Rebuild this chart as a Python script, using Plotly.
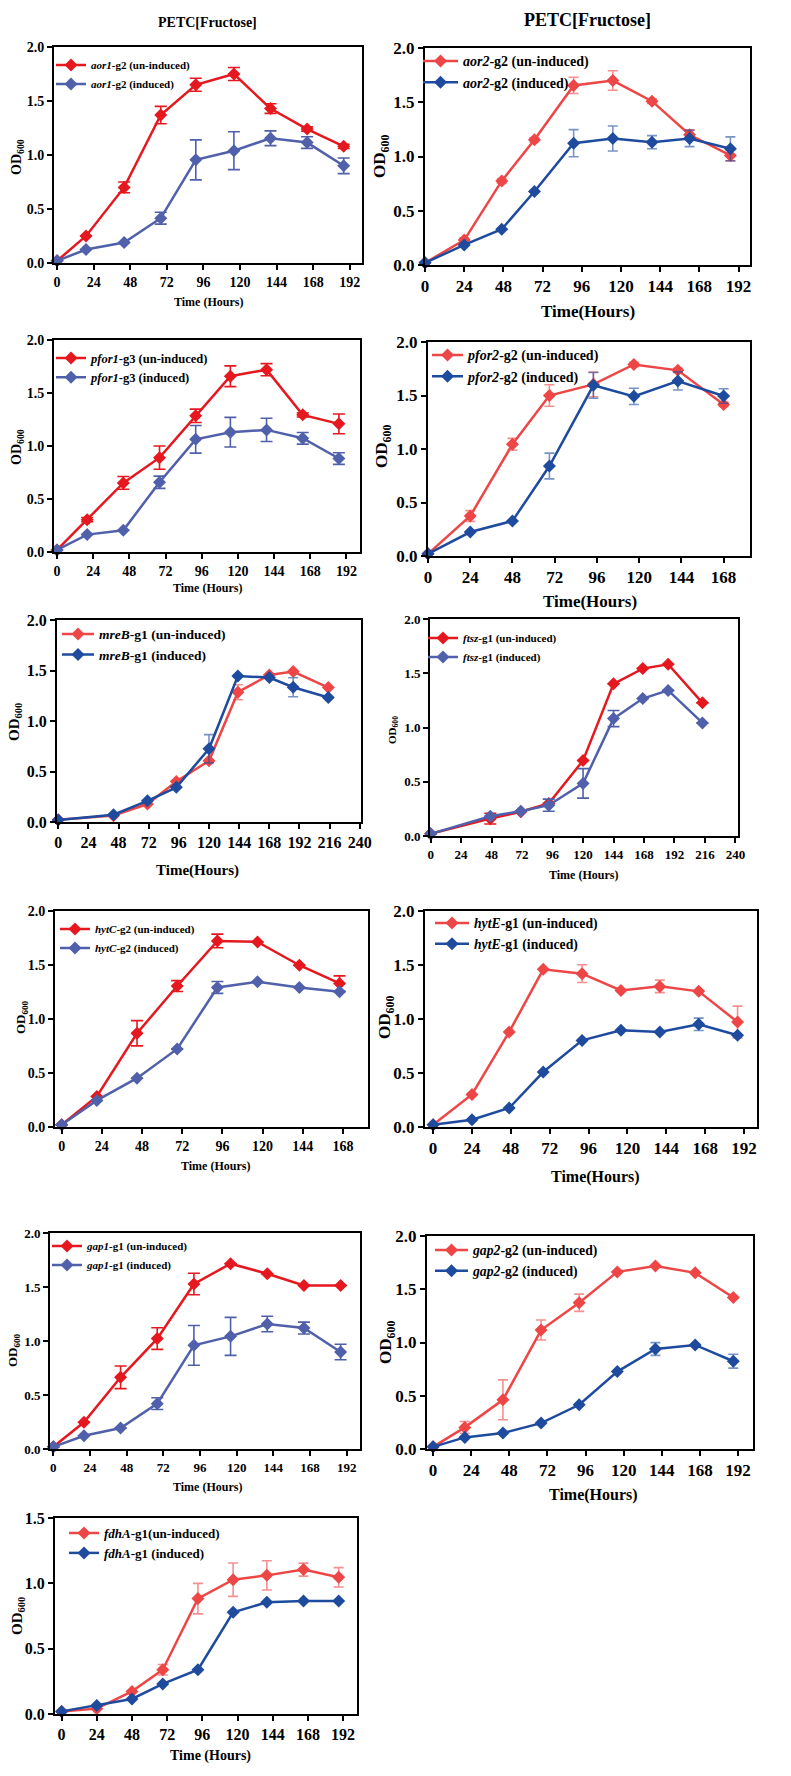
import plotly.graph_objects as go

W, H = 791, 1776

# ---------------- data ----------------
aor1_t = [0, 19, 44, 68, 91, 116, 140, 164, 188]
aor1_un = [0.02, 0.25, 0.70, 1.37, 1.65, 1.75, 1.43, 1.24, 1.08]
aor1_un_err = [0, 0, 0.05, 0.08, 0.06, 0.06, 0.045, 0.02, 0.02]
aor1_in = [0.02, 0.125, 0.19, 0.415, 0.955, 1.04, 1.155, 1.115, 0.90]
aor1_in_err = [0, 0, 0, 0.055, 0.185, 0.175, 0.068, 0.054, 0.072]

aor2_t = [0, 24, 47, 67, 91, 115, 139, 162, 187]
aor2_un = [0.02, 0.23, 0.775, 1.155, 1.655, 1.70, 1.51, 1.20, 1.01]
aor2_un_err = [0, 0.02, 0.02, 0.02, 0.075, 0.09, 0.02, 0.045, 0.05]
aor2_in = [0.02, 0.185, 0.33, 0.677, 1.123, 1.166, 1.132, 1.166, 1.071]
aor2_in_err = [0, 0, 0, 0, 0.125, 0.115, 0.06, 0.075, 0.11]

pfor1_t = [0, 20, 44, 68, 92, 115, 139, 163, 187]
pfor1_un = [0.02, 0.305, 0.652, 0.89, 1.285, 1.658, 1.72, 1.294, 1.209]
pfor1_un_err = [0, 0.02, 0.06, 0.11, 0.063, 0.098, 0.057, 0.02, 0.093]
pfor1_in = [0.02, 0.164, 0.205, 0.658, 1.063, 1.13, 1.152, 1.073, 0.882]
pfor1_in_err = [0, 0, 0, 0.058, 0.13, 0.14, 0.11, 0.055, 0.055]

pfor2_t = [0, 24, 48, 69, 94, 117, 142, 168]
pfor2_un = [0.02, 0.374, 1.044, 1.50, 1.604, 1.79, 1.735, 1.417]
pfor2_un_err = [0, 0.05, 0.055, 0.10, 0.115, 0.02, 0.02, 0.02]
pfor2_in = [0.02, 0.224, 0.327, 0.841, 1.595, 1.492, 1.636, 1.495]
pfor2_in_err = [0, 0, 0, 0.12, 0.12, 0.076, 0.085, 0.068]

mreB_t = [0, 44, 71, 94, 120, 143, 168, 187, 215]
mreB_un = [0.023, 0.063, 0.178, 0.402, 0.606, 1.285, 1.456, 1.489, 1.331]
mreB_un_err = [0, 0, 0, 0, 0, 0.074, 0, 0, 0]
mreB_in = [0.02, 0.072, 0.21, 0.343, 0.725, 1.446, 1.43, 1.334, 1.232]
mreB_in_err = [0, 0, 0, 0, 0.14, 0, 0, 0.094, 0]

ftsz_t = [0, 47, 71, 93, 120, 144, 167, 187, 214]
ftsz_un = [0.02, 0.16, 0.223, 0.30, 0.696, 1.403, 1.543, 1.583, 1.227]
ftsz_un_err = [0, 0.05, 0, 0, 0, 0, 0, 0, 0]
ftsz_in = [0.02, 0.182, 0.229, 0.284, 0.485, 1.082, 1.267, 1.342, 1.042]
ftsz_in_err = [0, 0, 0, 0.056, 0.136, 0.074, 0, 0, 0]

hytC_t = [0, 21, 45, 69, 93, 117, 142, 166]
hytC_un = [0.02, 0.283, 0.868, 1.305, 1.723, 1.714, 1.498, 1.329]
hytC_un_err = [0, 0, 0.117, 0.05, 0.063, 0, 0, 0.07]
hytC_in = [0.02, 0.246, 0.452, 0.723, 1.292, 1.345, 1.292, 1.252]
hytC_in_err = [0, 0, 0, 0, 0.055, 0, 0, 0]

hytE_t = [0, 24, 47, 68, 92, 116, 140, 164, 188]
hytE_un = [0.02, 0.302, 0.88, 1.46, 1.42, 1.265, 1.302, 1.256, 0.972]
hytE_un_err = [0, 0, 0, 0, 0.082, 0, 0.058, 0, 0.147]
hytE_in = [0.02, 0.068, 0.176, 0.509, 0.802, 0.895, 0.88, 0.951, 0.849]
hytE_in_err = [0, 0, 0, 0, 0, 0, 0, 0.057, 0]

gap1_t = [0, 20, 44, 68, 92, 116, 140, 164, 188]
gap1_un = [0.02, 0.247, 0.664, 1.022, 1.528, 1.716, 1.623, 1.515, 1.515]
gap1_un_err = [0, 0, 0.105, 0.1, 0.1, 0, 0, 0, 0]
gap1_in = [0.02, 0.123, 0.194, 0.42, 0.96, 1.043, 1.157, 1.12, 0.898]
gap1_in_err = [0, 0, 0, 0.054, 0.184, 0.176, 0.072, 0.055, 0.072]

gap2_t = [0, 20, 44, 68, 92, 116, 140, 165, 189]
gap2_un = [0.02, 0.203, 0.462, 1.117, 1.373, 1.663, 1.719, 1.654, 1.423]
gap2_un_err = [0, 0.055, 0.187, 0.094, 0.081, 0, 0, 0, 0]
gap2_in = [0.02, 0.109, 0.15, 0.243, 0.415, 0.727, 0.939, 0.977, 0.824]
gap2_in_err = [0, 0, 0, 0, 0, 0, 0.06, 0, 0.065]

fdhA_t = [0, 24, 48, 69, 93, 117, 140, 165, 189]
fdhA_un = [0.02, 0.041, 0.173, 0.339, 0.883, 1.028, 1.061, 1.105, 1.046]
fdhA_un_err = [0, 0, 0, 0.04, 0.117, 0.128, 0.112, 0.05, 0.074]
fdhA_in = [0.02, 0.066, 0.115, 0.23, 0.339, 0.778, 0.855, 0.865, 0.865]
fdhA_in_err = [0, 0, 0, 0, 0, 0, 0, 0, 0]

labels_un = ["<i>aor1</i>-g2 (un-induced)", "<i>aor2</i>-g2 (un-induced)", "<i>pfor1</i>-g3 (un-induced)",
             "<i>pfor2</i>-g2 (un-induced)", "<i>mreB</i>-g1 (un-induced)", "<i>ftsz</i>-g1 (un-induced)",
             "<i>hytC</i>-g2 (un-induced)", "<i>hytE</i>-g1 (un-induced)", "<i>gap1</i>-g1 (un-induced)",
             "<i>gap2</i>-g2 (un-induced)", "<i>fdhA</i>-g1(un-induced)"]
labels_in = ["<i>aor1</i>-g2 (induced)", "<i>aor2</i>-g2 (induced)", "<i>pfor1</i>-g3 (induced)",
             "<i>pfor2</i>-g2 (induced)", "<i>mreB</i>-g1 (induced)", "<i>ftsz</i>-g1 (induced)",
             "<i>hytC</i>-g2 (induced)", "<i>hytE</i>-g1 (induced)", "<i>gap1</i>-g1 (induced)",
             "<i>gap2</i>-g2 (induced)", "<i>fdhA</i>-g1 (induced)"]
xtitles = ["Time (Hours)", "Time(Hours)", "Time (Hours)", "Time(Hours)", "Time(Hours)", "Time (Hours)",
           "Time (Hours)", "Time(Hours)", "Time (Hours)", "Time(Hours)", "Time (Hours)"]

series = [
    (aor1_t, aor1_un, aor1_un_err, aor1_in, aor1_in_err),
    (aor2_t, aor2_un, aor2_un_err, aor2_in, aor2_in_err),
    (pfor1_t, pfor1_un, pfor1_un_err, pfor1_in, pfor1_in_err),
    (pfor2_t, pfor2_un, pfor2_un_err, pfor2_in, pfor2_in_err),
    (mreB_t, mreB_un, mreB_un_err, mreB_in, mreB_in_err),
    (ftsz_t, ftsz_un, ftsz_un_err, ftsz_in, ftsz_in_err),
    (hytC_t, hytC_un, hytC_un_err, hytC_in, hytC_in_err),
    (hytE_t, hytE_un, hytE_un_err, hytE_in, hytE_in_err),
    (gap1_t, gap1_un, gap1_un_err, gap1_in, gap1_in_err),
    (gap2_t, gap2_un, gap2_un_err, gap2_in, gap2_in_err),
    (fdhA_t, fdhA_un, fdhA_un_err, fdhA_in, fdhA_in_err),
]

# ---------------- styling / layout (pixel geometry) ----------------
PAL_A = dict(r="#E5181F", b="#5060AA", re="#E5181F", be="#5060AA", cw=6)
PAL_B = dict(r="#EE4646", b="#1E4B9E", re="rgba(238,70,70,0.6)", be="rgba(30,75,158,0.6)", cw=5)

# frame (l, t, r, b), x range, x max tick, y max, palette, tick font, legend font,
# legend (origin x, row1 y), legend itemwidth, x title (x, y, size), y title (x, y, size)
P = [
    dict(f=(54, 47, 362, 263), xr=(-2, 200), xm=192, ym=2.0, pal=PAL_A, tf=14, lf=11,
         lg=(51, 65), iw=30, xt=(209, 302, 12), yt=(17, 157, 14)),
    dict(f=(425, 48, 750, 265), xr=(0, 199), xm=192, ym=2.0, pal=PAL_B, tf=17, lf=14,
         lg=(418, 61), iw=35, xt=(588, 312, 17), yt=(381, 157, 17)),
    dict(f=(54, 340, 360, 552), xr=(-2, 201), xm=192, ym=2.0, pal=PAL_A, tf=14, lf=12.5,
         lg=(51, 358), iw=30, xt=(207, 588, 12), yt=(17, 447, 14)),
    dict(f=(428, 342, 750, 556), xr=(0, 183), xm=168, ym=2.0, pal=PAL_B, tf=17, lf=14,
         lg=(427, 355), iw=31, xt=(590, 601, 17), yt=(383, 447, 17)),
    dict(f=(57, 620, 361, 822), xr=(-1, 241), xm=240, ym=2.0, pal=PAL_B, tf=16, lf=13.5,
         lg=(57, 634), iw=32, xt=(197, 870, 15), yt=(15, 722, 15)),
    dict(f=(430, 619, 738, 836), xr=(-0.5, 242), xm=240, ym=2.0, pal=PAL_A, tf=13, lf=11,
         lg=(423, 638), iw=30, xt=(583, 875, 12), yt=(393, 730, 11)),
    dict(f=(55, 911, 368, 1127), xr=(-4, 183), xm=168, ym=2.0, pal=PAL_A, tf=14, lf=11,
         lg=(55, 929), iw=30, xt=(215, 1166, 12), yt=(22, 1017, 13)),
    dict(f=(425, 911, 757, 1127), xr=(-5, 200), xm=192, ym=2.0, pal=PAL_B, tf=17, lf=13.7,
         lg=(430, 923), iw=34, xt=(595, 1177, 16), yt=(386, 1018, 17)),
    dict(f=(50, 1233, 360, 1449), xr=(-2.2, 200.7), xm=192, ym=2.0, pal=PAL_A, tf=13, lf=11,
         lg=(47, 1246), iw=30, xt=(207, 1487, 12), yt=(13, 1350, 13)),
    dict(f=(427, 1236, 753, 1449), xr=(-3.8, 201.4), xm=192, ym=2.0, pal=PAL_B, tf=17, lf=13.7,
         lg=(430, 1250), iw=33, xt=(593, 1495, 16), yt=(387, 1343, 17)),
    dict(f=(55, 1518, 357, 1714), xr=(-4.5, 201.5), xm=192, ym=1.5, pal=PAL_B, tf=16, lf=13,
         lg=(64, 1533), iw=30, xt=(210, 1756, 14), yt=(18, 1616, 15)),
]

FONT = "Liberation Serif"

fig = go.Figure()
layout = dict(width=W, height=H, autosize=False,
              margin=dict(l=0, r=0, t=0, b=0, pad=0, autoexpand=False),
              paper_bgcolor="white", plot_bgcolor="white",
              font=dict(family=FONT, color="black", weight="bold"))
annotations = []

for i, (cfg, ser) in enumerate(zip(P, series)):
    k = i + 1
    sfx = "" if k == 1 else str(k)
    t, un, une, ind, ine = ser
    pal = cfg["pal"]
    common = dict(mode="lines+markers", cliponaxis=False,
                  xaxis="x" + sfx, yaxis="y" + sfx, legend="legend" + sfx)
    fig.add_trace(go.Scatter(x=t, y=un, name=labels_un[i],
                             line=dict(color=pal["r"], width=2.5),
                             marker=dict(symbol="diamond", size=10, color=pal["r"]),
                             error_y=dict(type="data", array=une, visible=True, color=pal["re"],
                                          thickness=1.6, width=pal["cw"]),
                             **common))
    fig.add_trace(go.Scatter(x=t, y=ind, name=labels_in[i],
                             line=dict(color=pal["b"], width=2.5),
                             marker=dict(symbol="diamond", size=10, color=pal["b"]),
                             error_y=dict(type="data", array=ine, visible=True, color=pal["be"],
                                          thickness=1.6, width=pal["cw"]),
                             **common))
    l, tp, r, b = cfg["f"]
    tickfont = dict(family=FONT, size=cfg["tf"], color="black", weight="bold")
    layout["xaxis" + sfx] = dict(domain=[l / W, r / W], anchor="y" + sfx, range=list(cfg["xr"]),
                                 tickmode="array", tickvals=list(range(0, cfg["xm"] + 1, 24)),
                                 ticks="outside", ticklen=5, tickwidth=2, tickcolor="black",
                                 showline=True, linewidth=2, linecolor="black", mirror=True,
                                 showgrid=False, zeroline=False, tickfont=tickfont, automargin=False)
    layout["yaxis" + sfx] = dict(domain=[1 - b / H, 1 - tp / H], anchor="x" + sfx,
                                 range=[0, cfg["ym"]], dtick=0.5, tick0=0, tickformat=".1f",
                                 ticks="outside", ticklen=5, tickwidth=2, tickcolor="black",
                                 showline=True, linewidth=2, linecolor="black", mirror=True,
                                 showgrid=False, zeroline=False, tickfont=tickfont, automargin=False)
    lx, ly = cfg["lg"]
    rowh = max(1.3 * cfg["lf"], 16) + 3
    layout["legend" + sfx] = dict(x=lx / W, y=1 - (ly - 5 - rowh / 2) / H,
                                  xanchor="left", yanchor="top", bgcolor="rgba(0,0,0,0)",
                                  borderwidth=0, itemwidth=cfg["iw"], tracegroupgap=0,
                                  font=dict(family=FONT, size=cfg["lf"], color="black", weight="bold"))
    xx, xy, xs = cfg["xt"]
    annotations.append(dict(text=xtitles[i], x=xx / W, y=1 - xy / H, xref="paper", yref="paper",
                            showarrow=False, xanchor="center", yanchor="middle",
                            font=dict(family=FONT, size=xs, color="black", weight="bold")))
    yx, yy, ys = cfg["yt"]
    annotations.append(dict(text="OD<sub>600</sub>", x=yx / W, y=1 - yy / H, xref="paper", yref="paper",
                            showarrow=False, xanchor="center", yanchor="middle", textangle=-90,
                            font=dict(family=FONT, size=ys, color="black", weight="bold")))

annotations.append(dict(text="PETC[Fructose]", x=208 / W, y=1 - 23 / H, xref="paper", yref="paper",
                        showarrow=False, xanchor="center", yanchor="middle",
                        font=dict(family=FONT, size=14, color="black", weight="bold")))
annotations.append(dict(text="PETC[Fructose]", x=587 / W, y=1 - 20 / H, xref="paper", yref="paper",
                        showarrow=False, xanchor="center", yanchor="middle",
                        font=dict(family=FONT, size=18, color="black", weight="bold")))
layout["annotations"] = annotations
layout["showlegend"] = True
fig.update_layout(**layout)
fig.write_html("out.html")
